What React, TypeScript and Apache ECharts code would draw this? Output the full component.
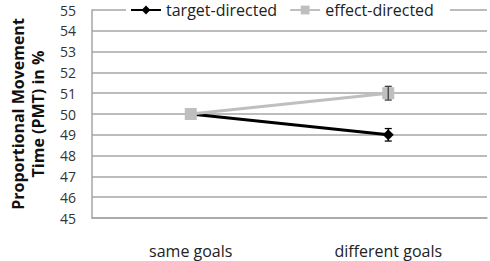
import React, { useEffect, useRef } from "react";
import * as echarts from "echarts";

const categories = ["same goals", "different goals"];
const targetValues = [50, 49];
const effectValues = [50, 51];
const targetErrors = [0, 0.3];
const effectErrors = [0, 0.33];
const yTicks = { min: 45, max: 55, interval: 1 };

export default function App() {
  const ref = useRef<HTMLDivElement>(null);
  useEffect(() => {
    if (!ref.current) return;
    const chart = echarts.init(ref.current, undefined, { renderer: "svg" });
    const errData = (vals: number[], errs: number[]) =>
      vals.map((v, i) => [i, v - errs[i], v + errs[i]]);
    const errSeries = (name: string, vals: number[], errs: number[], color: string, z: number) => ({
      type: "custom",
      name: name + "-err",
      data: errData(vals, errs).filter((d) => d[2] - d[1] > 0),
      z,
      silent: true,
      renderItem: (params: any, api: any) => {
        const x = api.value(0);
        const lo = api.coord([x, api.value(1)]);
        const hi = api.coord([x, api.value(2)]);
        const w = 3.5;
        const style = { stroke: color, lineWidth: 1.3 };
        return {
          type: "group",
          children: [
            { type: "line", shape: { x1: lo[0], y1: lo[1], x2: hi[0], y2: hi[1] }, style },
            { type: "line", shape: { x1: lo[0] - w, y1: lo[1], x2: lo[0] + w, y2: lo[1] }, style },
            { type: "line", shape: { x1: hi[0] - w, y1: hi[1], x2: hi[0] + w, y2: hi[1] }, style },
          ],
        };
      },
    });
    chart.setOption({
      animation: false,
      textStyle: { fontFamily: "Open Sans" },
      grid: { left: 87, right: 3, top: 10, bottom: 43 },
      legend: {
        top: 0,
        left: 126,
        backgroundColor: "#fff",
        padding: [2, 16, 2, 4],
        itemGap: 12,
        itemWidth: 30,
        itemHeight: 11,
        textStyle: { fontSize: 16, color: "#222", fontFamily: "Open Sans" },
        data: ["target-directed", "effect-directed"],
      },
      xAxis: {
        type: "category",
        data: categories,
        boundaryGap: true,
        axisLine: { lineStyle: { color: "#a6a6a6", width: 1.5 } },
        axisTick: { show: false },
        axisLabel: { fontSize: 16, color: "#222", margin: 25 },
      },
      yAxis: {
        type: "value",
        min: yTicks.min,
        max: yTicks.max,
        interval: yTicks.interval,
        name: "Proportional Movement\nTime (PMT) in %",
        nameLocation: "middle",
        nameRotate: 90,
        nameGap: 44,
        nameTextStyle: { fontSize: 16, fontWeight: "bold", color: "#111", lineHeight: 20 },
        axisLine: { show: true, lineStyle: { color: "#a6a6a6", width: 1.5 } },
        axisTick: { show: false },
        axisLabel: { fontSize: 14, color: "#333", margin: 16 },
        splitLine: { lineStyle: { color: "#a6a6a6", width: 1.5 } },
      },
      series: [
        errSeries("target-directed", targetValues, targetErrors, "#000", 1),
        errSeries("effect-directed", effectValues, effectErrors, "#404040", 5),
        {
          type: "line",
          name: "target-directed",
          data: targetValues,
          symbol: "diamond",
          symbolSize: 11,
          z: 3,
          lineStyle: { color: "#000", width: 3 },
          itemStyle: { color: "#000" },
        },
        {
          type: "line",
          name: "effect-directed",
          data: effectValues,
          symbol: "rect",
          symbolSize: 12,
          z: 4,
          lineStyle: { color: "#bfbfbf", width: 3 },
          itemStyle: { color: "#bfbfbf" },
        },
      ],
    });
    return () => chart.dispose();
  }, []);
  return (
    <div
      ref={ref}
      style={{ position: "absolute", left: 0, top: 0, width: 490, height: 261 }}
    />
  );
}
